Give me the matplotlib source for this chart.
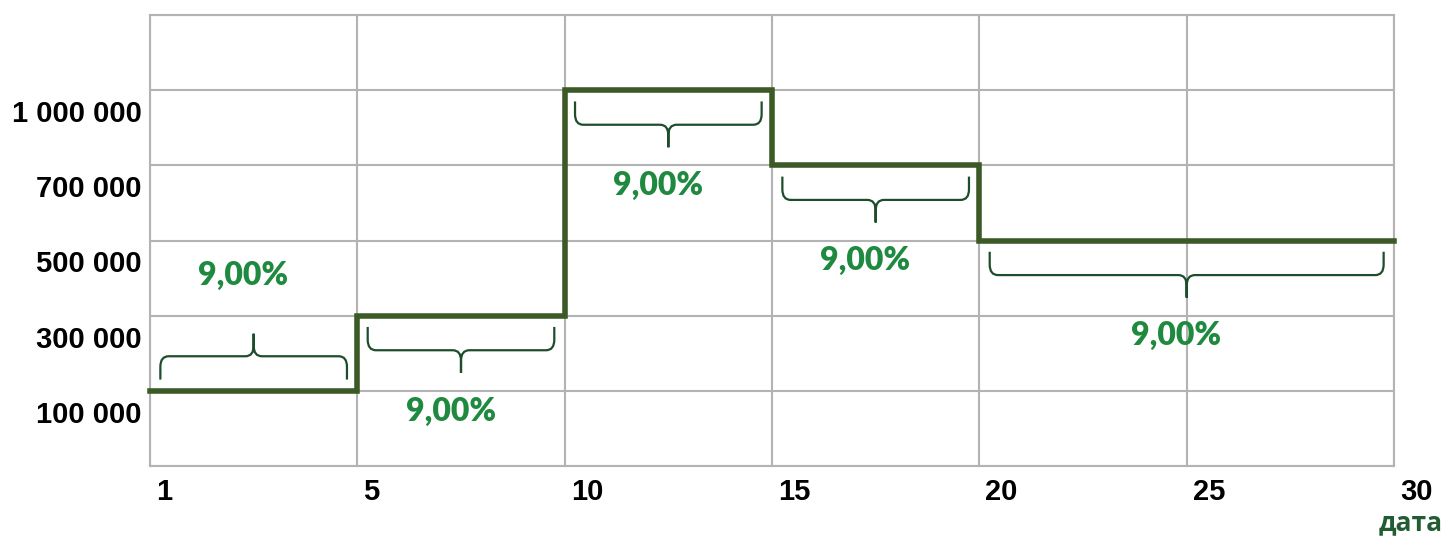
import numpy as np
import matplotlib.pyplot as plt
from matplotlib.path import Path
from matplotlib.patches import PathPatch
from matplotlib import transforms

# data
date_ticks = [1, 5, 10, 15, 20, 25, 30]
amount_ticks = [100000, 300000, 500000, 700000, 1000000]
amount_labels = ['100 000', '300 000', '500 000', '700 000', '1 000 000']

seg_dates = [1, 5, 10, 15, 20, 30]          # segment boundaries
seg_amounts = [100000, 300000, 1000000, 700000, 500000]
seg_rates = ['9,00%', '9,00%', '9,00%', '9,00%', '9,00%']
brace_side = ['up', 'down', 'down', 'down', 'down']

# colours
line_col = '#3b5a26'
brace_col = '#1e4d2b'
rate_col = '#1f8a3f'
title_col = '#235c33'
grid_col = '#b3b3b3'

W, H = 1448, 536
fig = plt.figure(figsize=(W / 100, H / 100), dpi=100)
ax = fig.add_axes([150 / W, 1 - 466 / H, (1394 - 150) / W, (466 - 15) / H])

# date -> equally spaced position, amount -> level position
xpos = {d: i for i, d in enumerate(date_ticks)}
ypos = {a: i + 1 for i, a in enumerate(amount_ticks)}

xs = [xpos[d] for d in seg_dates]
ys = [ypos[a] for a in seg_amounts]
ax.step(xs, ys + [ys[-1]], where='post', color=line_col, lw=4.0,
        solid_joinstyle='miter', zorder=3, clip_on=False)


def brace(x0, x1, y, side):
    s = 1 if side == 'up' else -1
    yt, yh, ysp = y + s * 0.15, y + s * 0.46, y + s * 0.76
    xm = (x0 + x1) / 2
    cx, cy = 0.04, 0.14
    verts, codes = [], []
    for a, b in [(x0, xm), (x1, xm)]:
        d = 1 if b > a else -1
        verts += [(a, yt), (a, yh - s * cy), (a, yh), (a + d * cx, yh),
                  (b - d * cx, yh), (b, yh), (b, yh + s * cy), (b, ysp)]
        codes += [Path.MOVETO, Path.LINETO, Path.CURVE3, Path.CURVE3,
                  Path.LINETO, Path.CURVE3, Path.CURVE3, Path.LINETO]
    ax.add_patch(PathPatch(Path(verts, codes), fill=False, ec=brace_col,
                           lw=1.6, zorder=4))


for i in range(len(seg_amounts)):
    x0, x1 = xs[i], xs[i + 1]
    y = ys[i]
    brace(x0 + 0.05, x1 - 0.05, y, brace_side[i])
    xm = (x0 + x1) / 2 - 0.05
    ty = y + 1.54 if brace_side[i] == 'up' else y - 1.27
    ax.text(xm, ty, seg_rates[i], color=rate_col, fontsize=23,
            fontweight='heavy', family=['Lato', 'DejaVu Sans'],
            ha='center', va='center', zorder=5)

ax.set_xlim(0, len(date_ticks) - 1)
ax.set_ylim(0, len(amount_ticks) + 1)
ax.set_xticks(range(len(date_ticks)))
ax.set_yticks(range(len(amount_ticks) + 2))
ax.set_xticklabels([])
ax.set_yticklabels([])
ax.tick_params(length=0)
ax.grid(True, color=grid_col, lw=1.5)
ax.set_axisbelow(True)
for sp in ax.spines.values():
    sp.set_color(grid_col)
    sp.set_linewidth(1.5)

# tick labels
xoff = transforms.offset_copy(ax.transData, fig=fig, x=6, y=-12, units='dots')
for d in date_ticks:
    ax.text(xpos[d], 0, str(d), transform=xoff, ha='left', va='top',
            fontsize=21, fontweight='bold', family='Liberation Sans',
            color='black', clip_on=False)
yoff = transforms.offset_copy(ax.transData, fig=fig, x=-8, y=-10, units='dots')
for a, lab in zip(amount_ticks, amount_labels):
    ax.text(0, ypos[a], lab, transform=yoff, ha='right', va='top',
            fontsize=21, fontweight='bold', family='Liberation Sans',
            color='black', clip_on=False)

fig.text(1443 / W, 1 - 530 / H, 'дата', ha='right', va='baseline',
         fontsize=19, fontweight='bold', family=['Open Sans', 'DejaVu Sans'],
         color=title_col)

fig.savefig('out.png', dpi=100)
